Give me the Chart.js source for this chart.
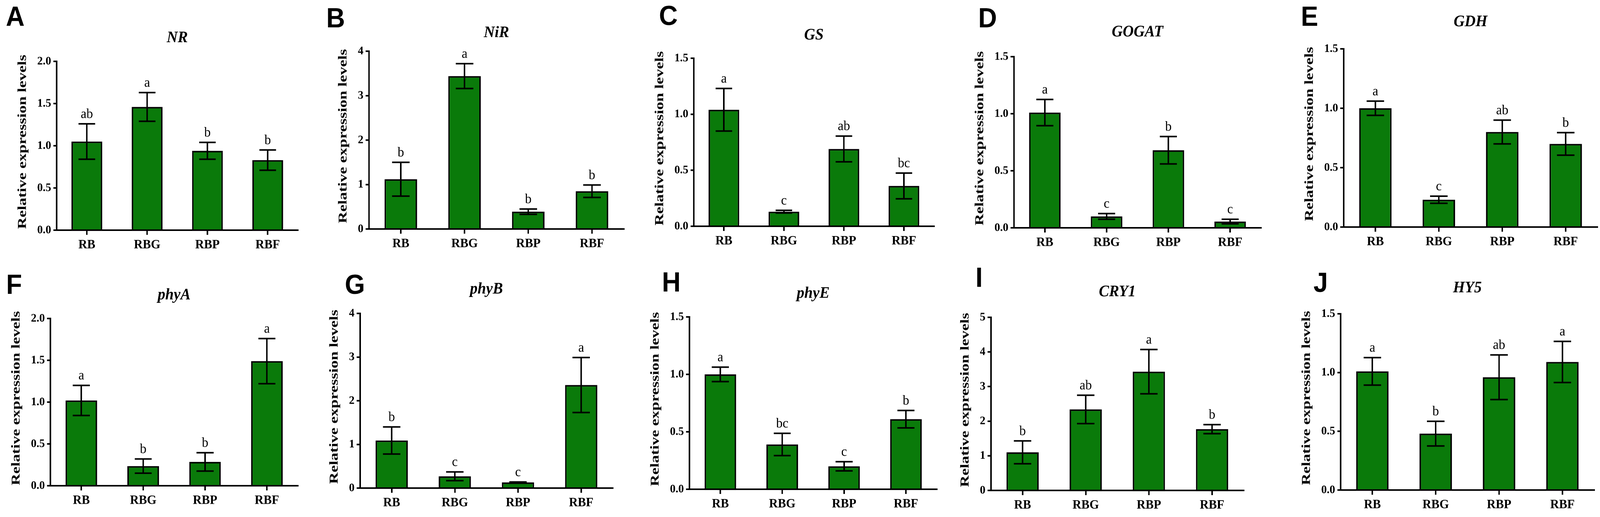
<!DOCTYPE html>
<html>
<head>
<meta charset="utf-8">
<script src="https://cdn.jsdelivr.net/npm/chart.js@4.4.1/dist/chart.umd.min.js"></script>
<style>
  html, body { margin: 0; padding: 0; background: #fff; overflow: hidden; }
  #stage { position: absolute; left: 0; top: 0; width: 4319px; height: 1323px; transform-origin: 0 0; }
  .panel { position: absolute; }
  .tag { position: absolute; font-family: "Liberation Sans", Arial, sans-serif; font-weight: bold;
         font-size: 70px; line-height: 1; color: #000; transform: translate(-50%, -50%); }
</style>
</head>
<body>
<div id="stage"></div>
<script>
// groups on the x axis
var groups = ["RB", "RBG", "RBP", "RBF"];
var genes = ["NR", "NiR", "GS", "GOGAT", "GDH", "phyA", "phyB", "phyE", "CRY1", "HY5"];
var panelTags = ["A", "B", "C", "D", "E", "F", "G", "H", "I", "J"];

// means, error (SEM) and significance letters
var nrMean = [1.05, 1.46, 0.94, 0.83];
var nrSem = [0.21, 0.17, 0.10, 0.12];
var nrSig = ["ab", "a", "b", "b"];

var nirMean = [1.12, 3.44, 0.39, 0.85];
var nirSem = [0.38, 0.28, 0.06, 0.14];
var nirSig = ["b", "a", "b", "b"];

var gsMean = [1.04, 0.13, 0.69, 0.36];
var gsSem = [0.19, 0.012, 0.115, 0.115];
var gsSig = ["a", "c", "ab", "bc"];

var gogatMean = [1.01, 0.10, 0.68, 0.055];
var gogatSem = [0.115, 0.025, 0.12, 0.02];
var gogatSig = ["a", "c", "b", "c"];

var gdhMean = [1.00, 0.23, 0.80, 0.70];
var gdhSem = [0.06, 0.03, 0.10, 0.095];
var gdhSig = ["a", "c", "ab", "b"];

var phyAMean = [1.02, 0.235, 0.285, 1.49];
var phyASem = [0.18, 0.085, 0.11, 0.27];
var phyASig = ["a", "b", "b", "a"];

var phyBMean = [1.09, 0.27, 0.13, 2.36];
var phyBSem = [0.31, 0.10, 0.01, 0.63];
var phyBSig = ["b", "c", "c", "a"];

var phyEMean = [1.00, 0.39, 0.20, 0.61];
var phyESem = [0.063, 0.097, 0.04, 0.076];
var phyESig = ["a", "bc", "c", "b"];

var cry1Mean = [1.10, 2.34, 3.43, 1.77];
var cry1Sem = [0.33, 0.41, 0.64, 0.13];
var cry1Sig = ["b", "ab", "a", "b"];

var hy5Mean = [1.01, 0.48, 0.96, 1.09];
var hy5Sem = [0.117, 0.105, 0.19, 0.175];
var hy5Sig = ["a", "b", "ab", "a"];

// y tick labels
var ticks2 = ["0.0", "0.5", "1.0", "1.5", "2.0"];
var ticks15 = ["0.0", "0.5", "1.0", "1.5"];
var ticks4 = ["0", "1", "2", "3", "4"];
var ticks5 = ["0", "1", "2", "3", "4", "5"];

var means = [nrMean, nirMean, gsMean, gogatMean, gdhMean, phyAMean, phyBMean, phyEMean, cry1Mean, hy5Mean];
var sems = [nrSem, nirSem, gsSem, gogatSem, gdhSem, phyASem, phyBSem, phyESem, cry1Sem, hy5Sem];
var sigs = [nrSig, nirSig, gsSig, gogatSig, gdhSig, phyASig, phyBSig, phyESig, cry1Sig, hy5Sig];
var yTicks = [ticks2, ticks4, ticks15, ticks15, ticks15, ticks2, ticks4, ticks15, ticks5, ticks15];

// layout: y-axis x, plot top, plot bottom, x-axis end, title gap, tag x, tag y
var boxes = [
  [153, 157, 589, 804, 62, 41, 42],
  [996, 131, 586, 1684, 49, 906, 46],
  [1873, 149, 579, 2521, 61, 1804, 40],
  [2737, 145, 583, 3404, 65, 2666, 46],
  [3627, 125, 581, 4312, 71, 3535, 42],
  [136, 815, 1243, 804, 62, 38, 728],
  [972, 802, 1249, 1654, 64, 958, 728],
  [1861, 811, 1252, 2529, 62, 1812, 722],
  [2675, 812, 1255, 3357, 67, 2643, 710],
  [3619, 803, 1254, 4303, 68, 3565, 723]
];

var GREEN = "#0a7a0a";
var LEFT = 125, TOP = 110, BOTTOM = 60, RIGHT = 6;
var serif = '"Liberation Serif", "Times New Roman", serif';

// the page is laid out at 4319x1323 and squeezed into whatever window we get
var stage = document.getElementById("stage");
stage.style.transform = "scale(" + (window.innerWidth / 4319) + "," + (window.innerHeight / 1323) + ")";

// error bars, letters, gene title and the stretched y label
var extras = {
  id: "extras",
  afterDatasetsDraw: function(chart, args, o) {
    var ctx = chart.ctx, y = chart.scales.y, a = chart.chartArea;
    var meta = chart.getDatasetMeta(0);
    ctx.save();
    ctx.strokeStyle = "#000";
    ctx.lineWidth = 4;
    ctx.fillStyle = "#000";
    ctx.textAlign = "center";
    ctx.textBaseline = "alphabetic";
    ctx.font = "35px " + serif;
    o.mean.forEach(function(m, i) {
      var bar = meta.data[i];
      var cx = bar.x, half = bar.width * 0.27;
      var yt = y.getPixelForValue(m + o.sem[i]);
      var yb = y.getPixelForValue(m - o.sem[i]);
      ctx.beginPath();
      ctx.moveTo(cx, yt); ctx.lineTo(cx, yb);
      ctx.moveTo(cx - half, yt); ctx.lineTo(cx + half, yt);
      ctx.moveTo(cx - half, yb); ctx.lineTo(cx + half, yb);
      ctx.stroke();
      ctx.fillText(o.sig[i], cx, yt - 15);
    });

    // gene name
    ctx.font = "italic bold 41px " + serif;
    ctx.fillText(o.title, (a.left + a.right) / 2, a.top - o.titleGap + 13);

    // y axis label
    ctx.font = "bold 30px " + serif;
    var maxW = 0;
    o.ticks.forEach(function(t) { maxW = Math.max(maxW, ctx.measureText(t).width); });
    var xc = a.left - 16 - maxW - 38;
    ctx.font = "bold 33px " + serif;
    ctx.translate(xc, (a.top + a.bottom) / 2 - 10);
    ctx.rotate(-Math.PI / 2);
    ctx.scale(1.25, 1);
    ctx.textBaseline = "middle";
    ctx.fillText("Relative expression levels", 0, 0);
    ctx.restore();
  }
};

genes.forEach(function(gene, p) {
  var b = boxes[p];
  var w = b[3] - b[0] + LEFT + RIGHT;
  var h = b[2] - b[1] + TOP + BOTTOM;
  var div = document.createElement("div");
  div.className = "panel";
  div.style.left = (b[0] - LEFT) + "px";
  div.style.top = (b[1] - TOP) + "px";
  div.style.width = w + "px";
  div.style.height = h + "px";
  var cv = document.createElement("canvas");
  cv.width = w;
  cv.height = h;
  div.appendChild(cv);
  stage.appendChild(div);

  var tag = document.createElement("div");
  tag.className = "tag";
  tag.textContent = panelTags[p];
  tag.style.left = b[5] + "px";
  tag.style.top = b[6] + "px";
  stage.appendChild(tag);

  var tl = yTicks[p];
  new Chart(cv.getContext("2d"), {
    type: "bar",
    data: {
      labels: groups,
      datasets: [{
        data: means[p],
        backgroundColor: GREEN,
        borderColor: "#000",
        borderWidth: 4,
        barPercentage: 0.51,
        categoryPercentage: 1.0
      }]
    },
    options: {
      responsive: false,
      devicePixelRatio: 2,
      animation: false,
      layout: { padding: { top: TOP, right: RIGHT, left: 0, bottom: 0 } },
      plugins: {
        legend: { display: false },
        tooltip: { enabled: false },
        extras: { mean: means[p], sem: sems[p], sig: sigs[p], title: gene, titleGap: b[4], ticks: tl }
      },
      scales: {
        x: {
          offset: true,
          grid: { offset: false, drawOnChartArea: false, drawTicks: true, tickLength: 12, lineWidth: 4, color: "#000" },
          border: { display: true, color: "#000", width: 4 },
          ticks: { color: "#000", padding: 6, font: { family: serif, weight: "bold", size: 33 } },
          afterFit: function(s) { s.height = BOTTOM; }
        },
        y: {
          min: 0,
          max: parseFloat(tl[tl.length - 1]),
          grid: { drawOnChartArea: false, drawTicks: true, tickLength: 9, lineWidth: 4, color: "#000" },
          border: { display: true, color: "#000", width: 4 },
          ticks: {
            stepSize: parseFloat(tl[1]),
            color: "#000",
            padding: 6,
            font: { family: serif, weight: "bold", size: 30 },
            callback: function(v, i) { return tl[i]; }
          },
          afterFit: function(s) { s.width = LEFT; }
        }
      }
    },
    plugins: [extras]
  });
});
</script>
</body>
</html>
